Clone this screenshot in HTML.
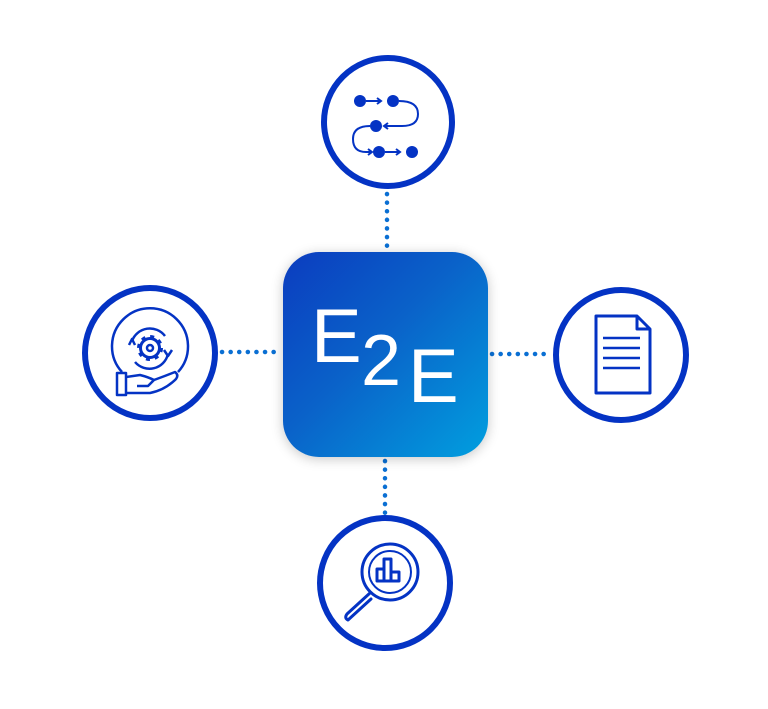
<!DOCTYPE html>
<html><head><meta charset="utf-8"><style>
html,body{margin:0;padding:0;background:#fff;}
body{width:768px;height:709px;overflow:hidden;position:relative;font-family:"Liberation Sans",sans-serif;}
.sq{position:absolute;left:283px;top:252px;width:205px;height:205px;border-radius:36px;background:linear-gradient(135deg,#0b3cbf 0%,#0a62c9 45%,#019fdf 100%);box-shadow:0 2px 12px rgba(0,0,0,0.22);}
.t{position:absolute;color:#fff;font-size:76px;line-height:1;}
</style></head><body>
<svg width="768" height="709" style="position:absolute;left:0;top:0">
<g stroke="#0a6fd3" stroke-width="4.5" stroke-linecap="round" stroke-dasharray="0.1 8.5" fill="none">
<line x1="387" y1="194" x2="387" y2="250"/>
<line x1="385" y1="461" x2="385" y2="514"/>
<line x1="222" y1="352" x2="280" y2="352"/>
<line x1="492" y1="354" x2="550" y2="354"/>
</g>
<g fill="none" stroke="#0433c4" stroke-width="6">
<circle cx="388" cy="122" r="64"/>
<circle cx="150" cy="353" r="65"/>
<circle cx="621" cy="355" r="65"/>
<circle cx="385" cy="583" r="65"/>
</g>
<!-- top icon -->
<g fill="#0433c4" stroke="#0433c4" stroke-width="2" >
<circle cx="360" cy="101" r="6" stroke="none"/>
<circle cx="393" cy="101" r="6" stroke="none"/>
<circle cx="376" cy="126" r="6" stroke="none"/>
<circle cx="379" cy="152" r="6" stroke="none"/>
<circle cx="412" cy="152" r="6" stroke="none"/>
<g fill="none">
<line x1="366" y1="101" x2="380" y2="101"/><path d="M377 98 L381 101 L377 104"/>
<path d="M399 101 Q418 101 418 114 Q418 126 402 126 L385 126"/><path d="M388 123 L384 126 L388 129"/>
<path d="M370 126 Q353 126 353 139 Q353 152 366 152 L371 152"/><path d="M368 149 L372 152 L368 155"/>
<line x1="385" y1="152" x2="399" y2="152"/><path d="M396 149 L400 152 L396 155"/>
</g></g>
<!-- left icon -->
<g fill="none" stroke="#0433c4" stroke-width="2.5" stroke-linejoin="round">
<path d="M122 372 A38 38 0 1 1 178 372"/>
<path d="M132 341 A19 19 0 0 1 165 336"/><path d="M168 354 A19 19 0 0 1 135 362"/>
<path d="M129 345 L132 339 L135 345"/><path d="M164 350 L168 356 L172 350"/>
<circle cx="150" cy="348" r="9.5" stroke-width="3"/>
<circle cx="150" cy="348" r="11.5" stroke-width="3" stroke-dasharray="4 5"/>
<circle cx="150" cy="348" r="3"/>
<rect x="117" y="373" width="9" height="22"/>
<path d="M126 377 L140 375 Q148 377 154 380 L148 386 L137 386 M154 380 Q165 376 175 372 Q179 375 176 379 Q165 390 150 393 L126 393"/>
</g>
<!-- right icon -->
<g fill="none" stroke="#0433c4" stroke-width="3" stroke-linejoin="round">
<path d="M596 316 L637 316 L650 329 L650 393 L596 393 Z"/>
<path d="M637 316 L637 329 L650 329"/>
<g stroke-width="2.5"><line x1="603" y1="338" x2="640" y2="338"/><line x1="603" y1="348" x2="640" y2="348"/><line x1="603" y1="358" x2="640" y2="358"/><line x1="603" y1="368" x2="640" y2="368"/></g>
</g>
<!-- bottom icon -->
<g fill="none" stroke="#0433c4" stroke-width="3" stroke-linejoin="round" stroke-linecap="round">
<circle cx="390" cy="572" r="28"/>
<circle cx="390" cy="572" r="21" stroke-width="2"/>
<path d="M370 593 L347 614 Q344 618 348 620 L371 599"/>
<rect x="377" y="569" width="7" height="12"/><rect x="384" y="559" width="7" height="22"/><rect x="391" y="572" width="8" height="9"/>
</g>
</svg>
<div class="sq"></div>
<div class="t" style="left:311px;top:299px;">E</div>
<div class="t" style="left:361px;top:325px;font-size:72px;">2</div>
<div class="t" style="left:408px;top:339px;">E</div>
</body></html>
